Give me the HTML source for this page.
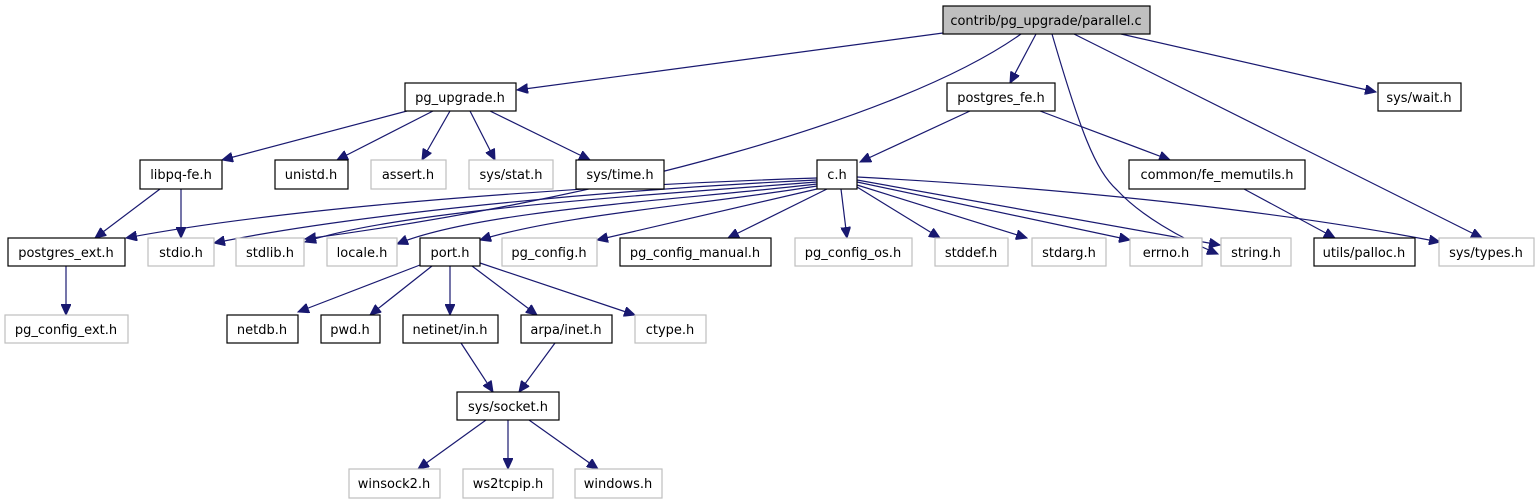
<!DOCTYPE html>
<html><head><meta charset="utf-8"><style>
html,body{margin:0;padding:0;background:#fff;}
svg{display:block;}
text{font-family:"DejaVu Sans","Liberation Sans",sans-serif;font-size:13px;fill:#000;text-anchor:middle;}
.e{fill:none;stroke:#191970;stroke-width:1.2;marker-end:url(#a);}
.b{fill:#fff;stroke:#000;stroke-width:1.2;}
.g{fill:#fff;stroke:#bfbfbf;stroke-width:1.2;}
</style></head><body>
<svg width="1539" height="504" viewBox="0 0 1539 504" xmlns="http://www.w3.org/2000/svg">
<defs><marker id="a" markerUnits="userSpaceOnUse" markerWidth="12" markerHeight="10" refX="11" refY="5" orient="auto"><path d="M0,0 L11,5 L0,10 Z" fill="#191970" stroke="#191970"/></marker></defs>
<!-- edges -->
<path class="e" d="M943,33 L517,90"/>
<path class="e" d="M1021,34 C900,120 600,200 305,239"/>
<path class="e" d="M1036,34 L1010,83"/>
<path class="e" d="M1052,34 C1080,130 1095,170 1117,190 C1140,215 1180,238 1218,254"/>
<path class="e" d="M1074,34 L1482,238"/>
<path class="e" d="M1121,34 L1376,92"/>
<path class="e" d="M407,111 L222,160"/>
<path class="e" d="M433,111 L337,160"/>
<path class="e" d="M450,111 L422,160"/>
<path class="e" d="M470,111 L495,160"/>
<path class="e" d="M490,111 L590,160"/>
<path class="e" d="M970,111 L860,162"/>
<path class="e" d="M1040,111 L1170,160"/>
<path class="e" d="M1244,189 L1335,238"/>
<path class="e" d="M160,189 L95,238"/>
<path class="e" d="M181,189 L181,238"/>
<path class="e" d="M66,266 L66,315"/>
<path class="e" d="M817,178 C600,185 300,205 126,238"/>
<path class="e" d="M817,180 C600,190 350,215 214,243"/>
<path class="e" d="M817,182 C650,195 400,210 305,242"/>
<path class="e" d="M817,184 C680,200 480,210 397,244"/>
<path class="e" d="M817,186 C700,205 560,215 480,240"/>
<path class="e" d="M817,189 L597,240"/>
<path class="e" d="M827,189 L728,238"/>
<path class="e" d="M841,189 L847,238"/>
<path class="e" d="M857,187 L940,238"/>
<path class="e" d="M857,185 L1027,238"/>
<path class="e" d="M857,182 L1130,240"/>
<path class="e" d="M857,180 L1220,245"/>
<path class="e" d="M857,177 C1100,190 1300,215 1440,242"/>
<path class="e" d="M420,265 L298,312"/>
<path class="e" d="M432,266 L370,315"/>
<path class="e" d="M450,266 L450,315"/>
<path class="e" d="M472,266 L537,315"/>
<path class="e" d="M480,263 L635,315"/>
<path class="e" d="M461,343 L493,392"/>
<path class="e" d="M555,343 L519,392"/>
<path class="e" d="M486,420 L418,469"/>
<path class="e" d="M508,420 L508,469"/>
<path class="e" d="M529,420 L598,469"/>
<!-- nodes -->
<rect x="943" y="6" width="207" height="28" fill="#bfbfbf" stroke="#000" stroke-width="1.2"/><text x="1046" y="25">contrib/pg_upgrade/parallel.c</text>
<rect class="b" x="405" y="83" width="111" height="28"/><text x="460" y="102">pg_upgrade.h</text>
<rect class="b" x="947" y="83" width="108" height="28"/><text x="1001" y="102">postgres_fe.h</text>
<rect class="b" x="1378" y="83" width="83" height="28"/><text x="1419" y="102">sys/wait.h</text>
<rect class="b" x="140" y="160" width="82" height="29"/><text x="181" y="179">libpq-fe.h</text>
<rect class="b" x="275" y="160" width="73" height="29"/><text x="311" y="179">unistd.h</text>
<rect class="g" x="371" y="160" width="75" height="29"/><text x="408" y="179">assert.h</text>
<rect class="g" x="469" y="160" width="84" height="29"/><text x="511" y="179">sys/stat.h</text>
<rect class="b" x="576" y="160" width="88" height="29"/><text x="620" y="179">sys/time.h</text>
<rect class="b" x="817" y="160" width="40" height="29"/><text x="837" y="179">c.h</text>
<rect class="b" x="1129" y="160" width="176" height="29"/><text x="1217" y="179">common/fe_memutils.h</text>
<rect class="b" x="8" y="238" width="117" height="28"/><text x="66" y="257">postgres_ext.h</text>
<rect class="g" x="148" y="238" width="66" height="28"/><text x="181" y="257">stdio.h</text>
<rect class="g" x="236" y="238" width="68" height="28"/><text x="270" y="257">stdlib.h</text>
<rect class="g" x="327" y="238" width="70" height="28"/><text x="362" y="257">locale.h</text>
<rect class="b" x="420" y="238" width="60" height="28"/><text x="450" y="257">port.h</text>
<rect class="g" x="502" y="238" width="95" height="28"/><text x="549" y="257">pg_config.h</text>
<rect class="b" x="620" y="238" width="151" height="28"/><text x="695" y="257">pg_config_manual.h</text>
<rect class="g" x="795" y="238" width="117" height="28"/><text x="853" y="257">pg_config_os.h</text>
<rect class="g" x="935" y="238" width="73" height="28"/><text x="971" y="257">stddef.h</text>
<rect class="g" x="1032" y="238" width="74" height="28"/><text x="1069" y="257">stdarg.h</text>
<rect class="g" x="1130" y="238" width="72" height="28"/><text x="1166" y="257">errno.h</text>
<rect class="g" x="1221" y="238" width="70" height="28"/><text x="1256" y="257">string.h</text>
<rect class="b" x="1314" y="238" width="101" height="28"/><text x="1364" y="257">utils/palloc.h</text>
<rect class="g" x="1439" y="238" width="95" height="28"/><text x="1486" y="257">sys/types.h</text>
<rect class="g" x="5" y="315" width="123" height="28"/><text x="66" y="334">pg_config_ext.h</text>
<rect class="b" x="227" y="315" width="71" height="28"/><text x="262" y="334">netdb.h</text>
<rect class="b" x="321" y="315" width="59" height="28"/><text x="350" y="334">pwd.h</text>
<rect class="b" x="403" y="315" width="95" height="28"/><text x="450" y="334">netinet/in.h</text>
<rect class="b" x="521" y="315" width="91" height="28"/><text x="566" y="334">arpa/inet.h</text>
<rect class="g" x="635" y="315" width="71" height="28"/><text x="670" y="334">ctype.h</text>
<rect class="b" x="457" y="392" width="102" height="28"/><text x="508" y="411">sys/socket.h</text>
<rect class="g" x="349" y="469" width="91" height="29"/><text x="394" y="488">winsock2.h</text>
<rect class="g" x="463" y="469" width="90" height="29"/><text x="508" y="488">ws2tcpip.h</text>
<rect class="g" x="575" y="469" width="87" height="29"/><text x="618" y="488">windows.h</text>
</svg>
</body></html>
